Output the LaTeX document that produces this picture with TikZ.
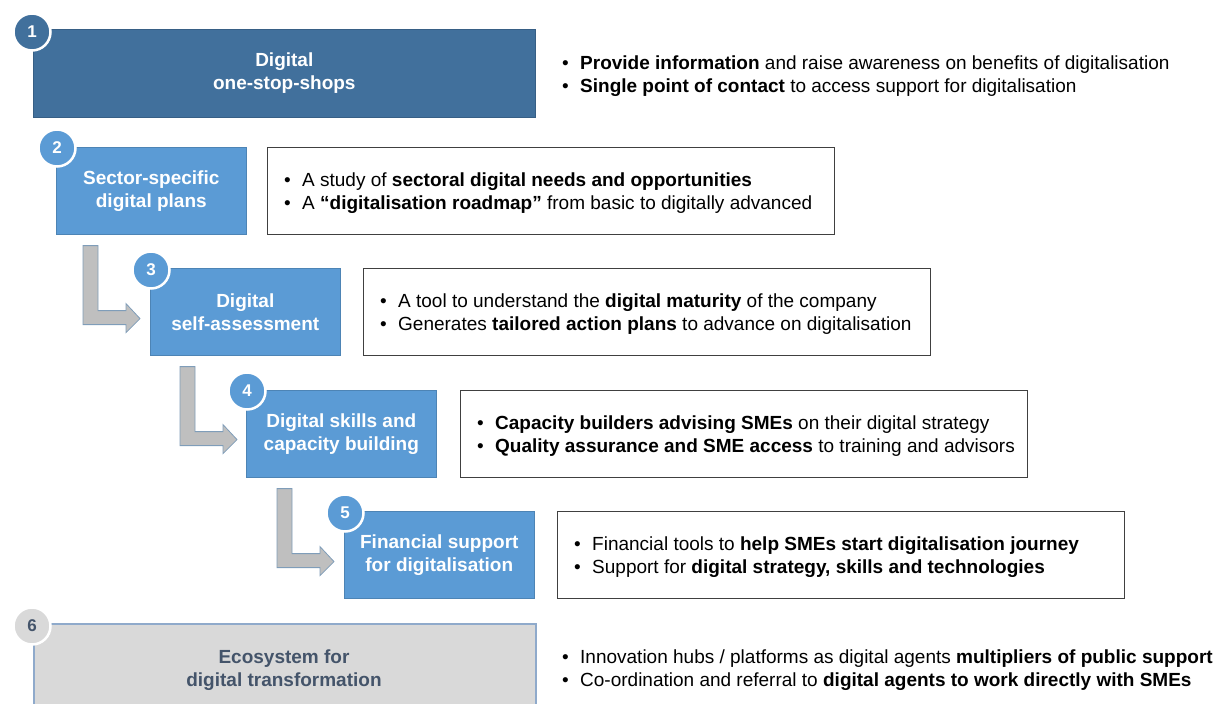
\documentclass[tikz,border=0pt]{standalone}
\usepackage{fontspec}
\setmainfont{Liberation Sans}
\definecolor{darkblue}{HTML}{41709C}
\definecolor{midblue}{HTML}{5B9BD5}
\definecolor{lightgray}{HTML}{D9D9D9}
\definecolor{slate}{HTML}{44546A}
\definecolor{boxedge}{HTML}{8FAACB}
\definecolor{arrowfill}{HTML}{BFBFBF}
\definecolor{arrowedge}{HTML}{7F9DB9}
\definecolor{frame}{HTML}{404040}
\newcommand{\bl}{\makebox[18pt][l]{\textbullet}}
\newcommand{\stepdown}[1]{%
  \draw[arrowstyle] (#1) -- ++(15,0) -- ++(0,65) -- ++(28,0) -- ++(0,-7)
    -- ++(14,15) -- ++(-14,14) -- ++(0,-8) -- ++(-43,0) -- cycle;}
\tikzset{
  stagebox/.style={rectangle, fill=midblue, draw=midblue!85!black, line width=0.6pt,
    minimum width=190pt, minimum height=87pt, inner sep=0pt, text=white,
    font=\fontsize{19}{23}\selectfont\bfseries, align=center},
  numcircle/.style={circle, fill=midblue, draw=white, line width=2.5pt,
    minimum size=37pt, inner sep=0pt, text=white, font=\fontsize{17}{18}\selectfont\bfseries},
  infobox/.style={rectangle, draw=frame, line width=1.4pt, fill=white,
    minimum width=567pt, minimum height=87pt, inner sep=0pt},
  infotext/.style={anchor=west, inner sep=0pt, align=left,
    font=\fontsize{19}{23}\selectfont, text=black},
  arrowstyle/.style={fill=arrowfill, draw=arrowedge, line width=0.8pt, line join=miter},
}
\begin{document}
\begin{tikzpicture}[x=1pt,y=-1pt]
\useasboundingbox (0,0) rectangle (1221,704);
\clip (0,0) rectangle (1221,704);
% stage 1
\node[stagebox, fill=darkblue, draw=darkblue!85!black, minimum width=502pt, minimum height=88pt,
  anchor=north west] (s1) at (33,29) {Digital\\one-stop-shops};
\node[numcircle, fill=darkblue] (c1) at (32,32) {1};
\node[infotext] (t1) at (562,76.5) {\bl\textbf{Provide information} and raise awareness on benefits of digitalisation\\
\bl\textbf{Single point of contact} to access support for digitalisation};
% stage 2
\node[stagebox, anchor=north west] (s2) at (56,147) {Sector-specific\\digital plans};
\node[numcircle] (c2) at (57,148) {2};
\node[infobox, anchor=north west] (b2) at (267,147) {};
\node[infotext] (t2) at (284,193) {\bl A study of \textbf{sectoral digital needs and opportunities}\\
\bl A \textbf{``digitalisation roadmap''} from basic to digitally advanced};
% stage 3
\node[stagebox, anchor=north west] (s3) at (150,268) {Digital\\self-assessment};
\node[numcircle] (c3) at (151,270) {3};
\node[infobox, anchor=north west] (b3) at (363,268) {};
\node[infotext] (t3) at (380,314) {\bl A tool to understand the \textbf{digital maturity} of the company\\
\bl Generates \textbf{tailored action plans} to advance on digitalisation};
% stage 4
\node[stagebox, anchor=north west] (s4) at (246,390) {Digital skills and\\capacity building};
\node[numcircle] (c4) at (247,391) {4};
\node[infobox, anchor=north west] (b4) at (460,390) {};
\node[infotext] (t4) at (477,436) {\bl\textbf{Capacity builders advising SMEs} on their digital strategy\\
\bl\textbf{Quality assurance and SME access} to training and advisors};
% stage 5
\node[stagebox, anchor=north west] (s5) at (344,511) {Financial support\\for digitalisation};
\node[numcircle] (c5) at (345,513) {5};
\node[infobox, anchor=north west] (b5) at (557,511) {};
\node[infotext] (t5) at (574,557) {\bl Financial tools to \textbf{help SMEs start digitalisation journey}\\
\bl Support for \textbf{digital strategy, skills and technologies}};
% stage 6
\node[stagebox, fill=lightgray, draw=boxedge, line width=1.6pt, text=slate,
  minimum width=502pt, minimum height=100pt, anchor=north west] (s6) at (33,623) {};
\node[text=slate, font=\fontsize{19}{23}\selectfont\bfseries, align=center] (l6) at (284,670) {Ecosystem for\\digital transformation};
\node[numcircle, fill=lightgray, text=slate] (c6) at (32,626) {6};
\node[infotext] (t6) at (562,670.5) {\bl Innovation hubs / platforms as digital agents \textbf{multipliers of public support}\\
\bl Co-ordination and referral to \textbf{digital agents to work directly with SMEs}};
% arrows
\coordinate (a1) at ([xshift=27pt,yshift=-11pt]s2.south west);
\coordinate (a2) at ([xshift=30pt,yshift=-11pt]s3.south west);
\coordinate (a3) at ([xshift=31pt,yshift=-11pt]s4.south west);
\stepdown{a1}
\stepdown{a2}
\stepdown{a3}
\end{tikzpicture}
\end{document}
